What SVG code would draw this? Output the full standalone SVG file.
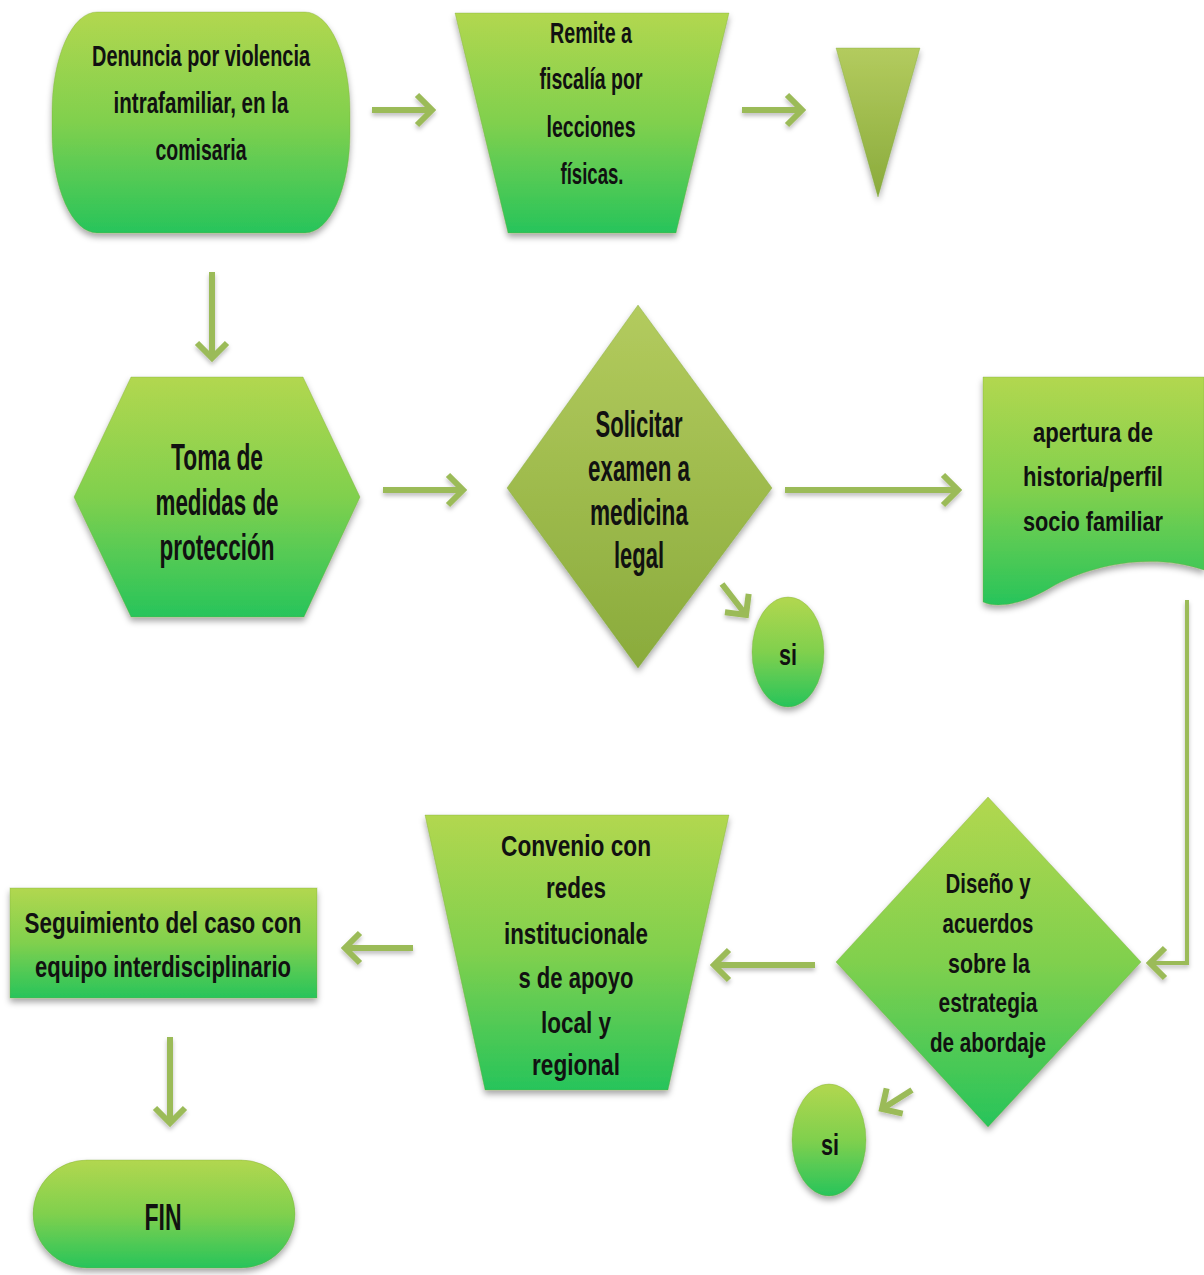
<svg xmlns="http://www.w3.org/2000/svg" width="1204" height="1275" viewBox="0 0 1204 1275">
<style>
.t{font-family:"Liberation Sans",Arial,sans-serif;text-anchor:middle;fill:#111}
.b{font-weight:bold}
.cal{font-size:30px}
.ap{font-size:27px}
.nar{font-size:37px;font-weight:bold}
.dis{font-size:28px}
.arr{fill:none;stroke:#9bbb59;stroke-width:6;marker-end:url(#ah)}
.shape{filter:url(#sh);stroke:#7aa53a;stroke-opacity:0.35;stroke-width:1}
</style>
<defs>
<linearGradient id="gG" x1="0" y1="0" x2="0" y2="1">
<stop offset="0" stop-color="#b2d74f"/>
<stop offset="0.5" stop-color="#80d04e"/>
<stop offset="1" stop-color="#27c45b"/>
</linearGradient>
<linearGradient id="gO" x1="0" y1="0" x2="0" y2="1">
<stop offset="0" stop-color="#b3cb5e"/>
<stop offset="1" stop-color="#8aab3c"/>
</linearGradient>
<filter id="sh" x="-10%" y="-10%" width="120%" height="125%">
<feDropShadow dx="0" dy="4" stdDeviation="3" flood-color="#000" flood-opacity="0.35"/>
</filter>
<filter id="ash" x="-20%" y="-20%" width="140%" height="160%">
<feDropShadow dx="0" dy="3" stdDeviation="2" flood-color="#000" flood-opacity="0.25"/>
</filter>
<marker id="ah" markerUnits="userSpaceOnUse" markerWidth="40" markerHeight="40" refX="0" refY="0" orient="auto" overflow="visible">
<path d="M-15,-15 L0,0 L-15,15" fill="none" stroke="#9bbb59" stroke-width="6"/>
</marker>
</defs>

<g id="connectors" filter="url(#ash)">
<path class="arr" d="M372,110 H432"/>
<path class="arr" d="M742,110 H802"/>
<path class="arr" d="M212,272 V358"/>
<path class="arr" d="M383,490 H463"/>
<path class="arr" d="M785,490 H958"/>
<path class="arr" d="M722,584 L746,615"/>
<path class="arr" style="stroke-width:4" d="M1187,600 V963 H1150"/>
<path class="arr" d="M815,965 H714"/>
<path class="arr" d="M413,948 H345"/>
<path class="arr" d="M170,1037 V1123"/>
<path class="arr" d="M912,1090 L882,1109"/>
</g>

<g id="denuncia">
<path class="shape" fill="url(#gG)" d="M97,12 H305 A45,100 0 0 1 350,112 V133 A45,100 0 0 1 305,233 H97 A45,100 0 0 1 52,133 V112 A45,100 0 0 1 97,12 Z"/>
<text class="t b cal" x="201" y="66" textLength="218" lengthAdjust="spacingAndGlyphs">Denuncia por violencia</text>
<text class="t b cal" x="201" y="113" textLength="175" lengthAdjust="spacingAndGlyphs">intrafamiliar, en la</text>
<text class="t b cal" x="201" y="160" textLength="91" lengthAdjust="spacingAndGlyphs">comisaria</text>
</g>

<g id="remite">
<path class="shape" fill="url(#gG)" d="M455,13 H729 L676,233 H508 Z"/>
<text class="t b cal" x="591" y="43" textLength="82" lengthAdjust="spacingAndGlyphs">Remite a</text>
<text class="t b cal" x="591" y="89" textLength="103" lengthAdjust="spacingAndGlyphs">fiscalía por</text>
<text class="t b cal" x="591" y="137" textLength="89" lengthAdjust="spacingAndGlyphs">lecciones</text>
<text class="t b cal" x="592" y="184" textLength="63" lengthAdjust="spacingAndGlyphs">físicas.</text>
</g>

<g id="triangulo">
<path class="shape" fill="url(#gO)" d="M836,48 H920 L878,197 Z"/>
</g>

<g id="toma">
<path class="shape" fill="url(#gG)" d="M74,497 L131,377 H303 L360,497 L304,617 H131 Z"/>
<text class="t nar" x="217" y="470" textLength="92" lengthAdjust="spacingAndGlyphs">Toma de</text>
<text class="t nar" x="217" y="515" textLength="123" lengthAdjust="spacingAndGlyphs">medidas de</text>
<text class="t nar" x="217" y="560" textLength="115" lengthAdjust="spacingAndGlyphs">protección</text>
</g>

<g id="solicitar">
<path class="shape" fill="url(#gO)" d="M638,305 L772,488 L638,668 L507,488 Z"/>
<text class="t nar" x="639" y="437" textLength="87" lengthAdjust="spacingAndGlyphs">Solicitar</text>
<text class="t nar" x="639" y="481" textLength="102" lengthAdjust="spacingAndGlyphs">examen a</text>
<text class="t nar" x="639" y="525" textLength="98" lengthAdjust="spacingAndGlyphs">medicina</text>
<text class="t nar" x="639" y="568" textLength="50" lengthAdjust="spacingAndGlyphs">legal</text>
</g>

<g id="si1">
<ellipse class="shape" fill="url(#gG)" cx="788" cy="652" rx="36" ry="55"/>
<text class="t b" style="font-size:30px" x="788" y="665" textLength="18" lengthAdjust="spacingAndGlyphs">si</text>
</g>

<g id="apertura">
<path class="shape" fill="url(#gG)" d="M983,377 H1204 V570 C1150,552 1090,565 1050,588 C1020,606 995,608 983,602 Z"/>
<text class="t b ap" x="1093" y="442" textLength="120" lengthAdjust="spacingAndGlyphs">apertura de</text>
<text class="t b ap" x="1093" y="486" textLength="140" lengthAdjust="spacingAndGlyphs">historia/perfil</text>
<text class="t b ap" x="1093" y="531" textLength="140" lengthAdjust="spacingAndGlyphs">socio familiar</text>
</g>

<g id="diseno">
<path class="shape" fill="url(#gG)" d="M988,797 L1141,962 L988,1127 L836,962 Z"/>
<text class="t b dis" x="988" y="893" textLength="85" lengthAdjust="spacingAndGlyphs">Diseño y</text>
<text class="t b dis" x="988" y="933" textLength="91" lengthAdjust="spacingAndGlyphs">acuerdos</text>
<text class="t b dis" x="989" y="973" textLength="82" lengthAdjust="spacingAndGlyphs">sobre la</text>
<text class="t b dis" x="988" y="1012" textLength="99" lengthAdjust="spacingAndGlyphs">estrategia</text>
<text class="t b dis" x="988" y="1052" textLength="116" lengthAdjust="spacingAndGlyphs">de abordaje</text>
</g>

<g id="si2">
<ellipse class="shape" fill="url(#gG)" cx="829" cy="1140" rx="37" ry="56"/>
<text class="t b" style="font-size:30px" x="830" y="1155" textLength="18" lengthAdjust="spacingAndGlyphs">si</text>
</g>

<g id="convenio">
<path class="shape" fill="url(#gG)" d="M425,815 H729 L668,1090 H485 Z"/>
<text class="t b cal" x="576" y="856" textLength="150" lengthAdjust="spacingAndGlyphs">Convenio con</text>
<text class="t b cal" x="576" y="898" textLength="60" lengthAdjust="spacingAndGlyphs">redes</text>
<text class="t b cal" x="576" y="944" textLength="144" lengthAdjust="spacingAndGlyphs">institucionale</text>
<text class="t b cal" x="576" y="988" textLength="115" lengthAdjust="spacingAndGlyphs">s de apoyo</text>
<text class="t b cal" x="576" y="1033" textLength="70" lengthAdjust="spacingAndGlyphs">local y</text>
<text class="t b cal" x="576" y="1075" textLength="88" lengthAdjust="spacingAndGlyphs">regional</text>
</g>

<g id="seguimiento">
<rect class="shape" fill="url(#gG)" x="10" y="888" width="307" height="110"/>
<text class="t b cal" x="163" y="933" textLength="277" lengthAdjust="spacingAndGlyphs">Seguimiento del caso con</text>
<text class="t b cal" x="163" y="977" textLength="256" lengthAdjust="spacingAndGlyphs">equipo interdisciplinario</text>
</g>

<g id="fin">
<rect class="shape" fill="url(#gG)" x="33" y="1160" width="262" height="108" rx="54" ry="54"/>
<text class="t nar" x="163" y="1230" textLength="37" lengthAdjust="spacingAndGlyphs">FIN</text>
</g>
</svg>
